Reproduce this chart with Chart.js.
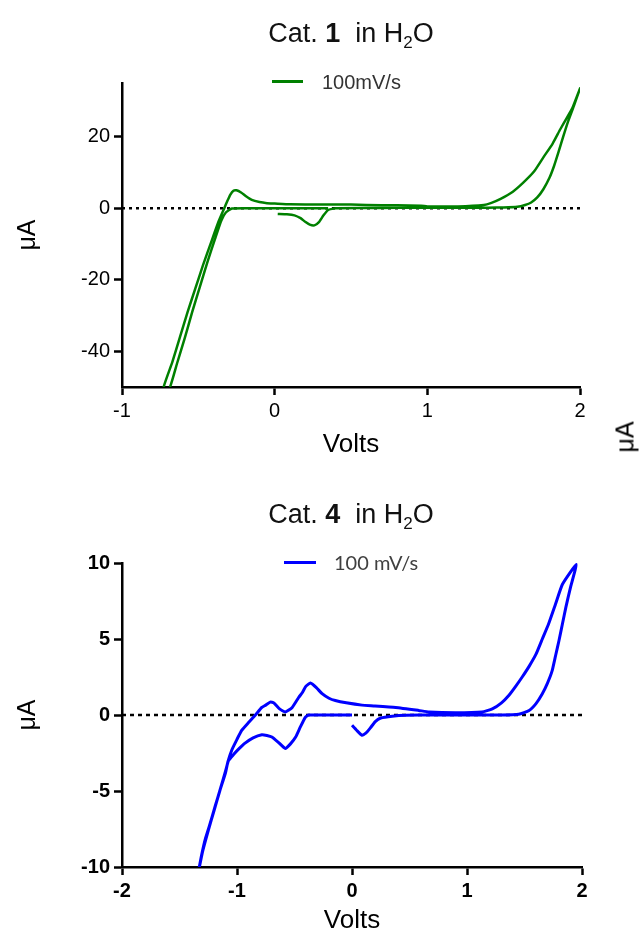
<!DOCTYPE html>
<html><head><meta charset="utf-8">
<script src="https://cdn.jsdelivr.net/npm/chart.js@4"></script>
<style>
html,body{margin:0;padding:0;background:#fff;}
body{width:641px;height:940px;position:relative;overflow:hidden;font-family:'Liberation Sans',Arial,sans-serif;}
canvas{position:absolute;left:0;}
.title{position:absolute;left:351px;transform:translateX(-50%);white-space:nowrap;font-size:27px;color:#111;line-height:27px;}
.title sub{font-size:17px;vertical-align:baseline;position:relative;top:6px;}
.leg{position:absolute;white-space:nowrap;font-size:20px;color:#333;line-height:20px;font-family:'Liberation Sans',Arial,sans-serif;}
.legline{position:absolute;height:3px;}
.stray{position:absolute;left:625px;top:437px;transform:translate(-50%,-50%) rotate(-90deg);font-size:25px;color:#000;white-space:nowrap;line-height:25px;}
</style></head>
<body>
<canvas id="c1" width="641" height="470" style="top:0"></canvas>
<canvas id="c2" width="641" height="470" style="top:470px"></canvas>
<div class="title" style="top:20px">Cat. <b>1</b>&nbsp; in H<sub>2</sub>O</div>
<div class="title" style="top:501px">Cat. <b>4</b>&nbsp; in H<sub>2</sub>O</div>
<div class="legline" style="left:272px;top:80px;width:31px;background:#008000"></div>
<div class="leg" style="left:322px;top:72px;">100mV/s</div>
<div class="legline" style="left:284px;top:561px;width:32px;background:#0000ff"></div>
<div class="leg" style="left:334px;top:552px;font-family:Lato,'Open Sans',sans-serif;color:#404040">100 mV/s</div>
<div class="stray">μA</div>
<script>
// ---- Data: Cat. 1 in H2O (100 mV/s) ----
const cat1Volts = [0.02,0.08,0.13,0.17,0.20,0.23,0.26,0.29,0.32,0.35,0.40,0.6,0.8,1.0,1.2,1.4,1.5,1.59,1.64,1.68,1.72,1.76,1.80,1.83,1.86,1.89,1.92,1.96,2.0,
  1.95,1.91,1.87,1.82,1.76,1.70,1.63,1.56,1.48,1.42,1.37,1.2,1.0,0.96,0.8,0.6,0.5,0.3,0.1,0.0,-0.05,-0.1,-0.15,-0.19,-0.22,-0.25,-0.27,-0.29,-0.31,-0.33,
  -0.37,-0.42,-0.47,-0.52,-0.57,-0.62,-0.67,-0.73,
  -0.69,-0.64,-0.59,-0.54,-0.49,-0.44,-0.39,-0.35,-0.32,-0.28,-0.2,0.0,0.35];
const cat1MicroAmps = [-1.6,-1.7,-2.0,-2.8,-3.8,-4.6,-4.8,-3.9,-2.0,-0.5,0,0.05,0.1,0.1,0.1,0.15,0.2,0.4,0.9,1.6,3.0,5.3,8.5,11.8,15.8,20,24,28.6,33.5,
  28,25,22,18,14.2,10.3,7.2,4.6,2.6,1.5,0.9,0.5,0.5,0.7,0.8,0.9,1.0,1.0,1.1,1.3,1.4,1.7,2.3,3.4,4.4,5.0,4.9,3.8,2.0,0,
  -4,-10,-16,-22.5,-29,-36,-43,-50.5,
  -50.5,-43.5,-36.5,-29,-22,-15,-8.5,-3.5,-1.2,-0.1,0,0,0];
const cat1XTicks = [-1,0,1,2];
const cat1YTicks = [-40,-20,0,20];
const cat1ZeroLineX = [-1,2];

// ---- Data: Cat. 4 in H2O (100 mV/s) ----
const cat4Volts = [0.0,0.04,0.087,0.12,0.16,0.2,0.25,0.35,0.47,0.7,1.0,1.3,1.45,1.54,1.6,1.655,1.70,1.74,1.77,1.80,1.83,1.86,1.90,1.95,
  1.83,1.77,1.71,1.655,1.60,1.54,1.48,1.42,1.365,1.30,1.22,1.13,0.9,0.67,0.58,0.38,0.2,0.087,-0.05,-0.145,-0.2,-0.26,-0.31,-0.362,-0.40,-0.43,-0.464,-0.52,-0.58,-0.63,-0.68,-0.711,-0.75,-0.784,-0.84,-0.9,-0.958,-1.0,-1.045,-1.08,-1.10,-1.15,-1.19,-1.24,-1.277,-1.31,-1.335,
  -1.30,-1.25,-1.2,-1.15,-1.10,-1.074,-1.03,-0.98,-0.93,-0.86,-0.784,-0.74,-0.697,-0.64,-0.58,-0.535,-0.49,-0.45,-0.406,-0.377,-0.2,0.0];
const cat4MicroAmps = [-0.68,-1.0,-1.33,-1.2,-0.85,-0.45,-0.2,-0.08,-0.02,0,0,0,0.05,0.3,0.75,1.4,2.1,2.9,3.9,4.9,6.0,7.1,8.4,9.9,
  8.6,7.3,6.0,5.0,4.0,3.2,2.5,1.85,1.3,0.8,0.4,0.2,0.15,0.2,0.3,0.5,0.6,0.65,0.8,0.95,1.1,1.4,1.8,2.1,1.9,1.5,1.15,0.5,0.2,0.4,0.8,0.85,0.65,0.5,0,-0.5,-1.0,-1.6,-2.3,-3.1,-3.8,-5.0,-6.0,-7.3,-8.2,-9.3,-10.3,
  -9.0,-7.6,-6.3,-5.0,-3.7,-3.0,-2.6,-2.2,-1.85,-1.5,-1.3,-1.35,-1.45,-1.8,-2.2,-1.9,-1.45,-0.8,-0.15,0,0,0];
const cat4XTicks = [-2,-1,0,1,2];
const cat4YTicks = [-10,-5,0,5,10];
const cat4ZeroLineX = [-2,2];

function toPoints(xs, ys){ return xs.map((x,i)=>({x:x, y:ys[i]})); }

const FONT = "'Liberation Sans', Arial, sans-serif";

function makeChart(id, o){
  const tickGrid = {display:true, drawOnChartArea:false, drawTicks:true, tickLength:8, tickWidth:2.5, tickColor:'#000', color:'#000'};
  const tickFont = {family:FONT, size:20, weight:o.tw};
  return new Chart(document.getElementById(id), {
    type:'line',
    data:{datasets:[
      {label:o.label, data:toPoints(o.xs,o.ys), borderColor:o.color, backgroundColor:o.color, borderWidth:o.lw, pointRadius:0, tension:0.15, fill:false},
      {label:'zero', data:o.zero.map(x=>({x:x,y:0})), borderColor:'#000', borderWidth:2.5, borderDash:o.dash, pointRadius:0, fill:false}
    ]},
    options:{
      responsive:false, animation:false, devicePixelRatio:1,
      layout:{padding:o.pad},
      plugins:{legend:{display:false}, tooltip:{enabled:false}},
      scales:{
        x:{type:'linear', min:o.xmin, max:o.xmax,
          afterBuildTicks:s=>{ s.ticks = o.xt.map(v=>({value:v})); },
          afterFit:s=>{ s.height = o.xh; },
          border:{display:true, color:'#000', width:2.5},
          grid:tickGrid,
          ticks:{color:'#000', font:tickFont, padding:4, maxRotation:0, autoSkip:false},
          title:{display:true, text:'Volts', color:'#000', font:{family:FONT, size:26}, padding:{top:0,bottom:o.xtp}}
        },
        y:{type:'linear', min:o.ymin, max:o.ymax,
          afterBuildTicks:s=>{ s.ticks = o.yt.map(v=>({value:v})); },
          afterFit:s=>{ s.width = o.yw; },
          border:{display:true, color:'#000', width:2.5},
          grid:tickGrid,
          ticks:{color:'#000', font:tickFont, padding:4, autoSkip:false},
          title:{display:true, text:'μA', color:'#000', font:{family:FONT, size:25}, padding:{top:13,bottom:0}}
        }
      }
    }
  });
}

makeChart('c1', {label:'100mV/s', xs:cat1Volts, ys:cat1MicroAmps, color:'#008000', lw:2.5, zero:cat1ZeroLineX, dash:[3,4],
  xmin:-1, xmax:2, ymin:-50, ymax:35, xt:cat1XTicks, yt:cat1YTicks, tw:'normal',
  pad:{left:0,right:61,top:83,bottom:0}, xh:83, yw:122, xtp:10});
makeChart('c2', {label:'100 mV/s', xs:cat4Volts, ys:cat4MicroAmps, color:'#0000ff', lw:3, zero:cat4ZeroLineX, dash:[4,4],
  xmin:-2, xmax:2, ymin:-10, ymax:10, xt:cat4XTicks, yt:cat4YTicks, tw:'bold',
  pad:{left:0,right:59,top:93,bottom:0}, xh:73, yw:122, xtp:4});
</script>
</body></html>
